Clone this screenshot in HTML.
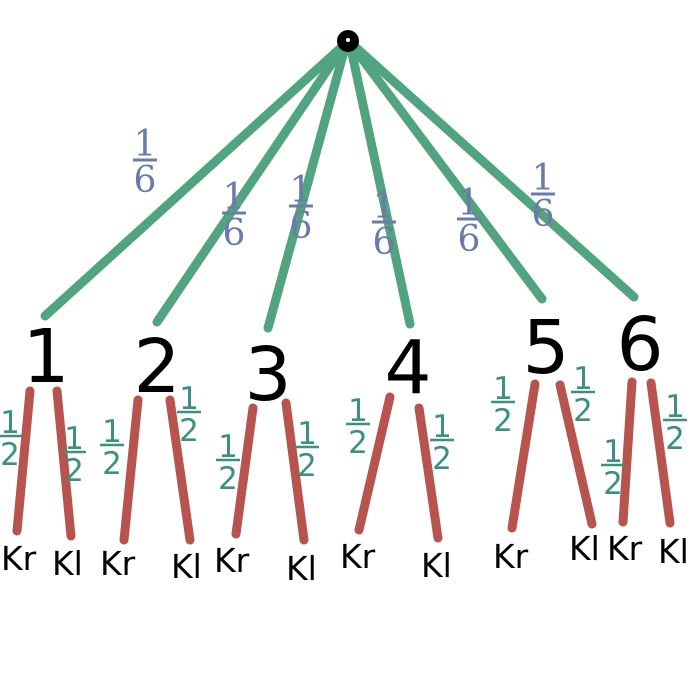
<!DOCTYPE html>
<html><head><style>body{margin:0;background:#fff}svg{display:block}</style></head><body>
<svg width="700" height="700" xmlns="http://www.w3.org/2000/svg">
<defs>
<g id="h"><text x="0" y="-3" text-anchor="middle" font-family="DejaVu Sans, sans-serif" font-size="31" fill="#3d8f80">1</text><line x1="-12" y1="0" x2="12" y2="0" stroke="#3d8f80" stroke-width="2.5"/><text x="0" y="29" text-anchor="middle" font-family="DejaVu Sans, sans-serif" font-size="31" fill="#3d8f80">2</text></g>
<g id="s"><text x="0" y="-4" text-anchor="middle" font-family="DejaVu Serif, serif" font-size="36" fill="#6b7aa8">1</text><line x1="-12" y1="0" x2="12" y2="0" stroke="#6b7aa8" stroke-width="3"/><text x="0" y="32" text-anchor="middle" font-family="DejaVu Serif, serif" font-size="36" fill="#6b7aa8">6</text></g>
</defs>
<g stroke="#52a37f" stroke-width="9" stroke-linecap="round">
<line x1="345" y1="44" x2="45" y2="316"/>
<line x1="345" y1="44" x2="157" y2="322"/>
<line x1="346" y1="44" x2="268" y2="328"/>
<line x1="350" y1="44" x2="410" y2="324"/>
<line x1="351" y1="44" x2="542" y2="299"/>
<line x1="352" y1="44" x2="634" y2="297"/>
</g>
<circle cx="348" cy="41" r="11" fill="#000"/><circle cx="348" cy="40" r="2" fill="#fff"/>
<use href="#s" x="145" y="160"/><use href="#s" x="234" y="213"/><use href="#s" x="301" y="206"/>
<use href="#s" x="384" y="222"/><use href="#s" x="469" y="219"/><use href="#s" x="543" y="194"/>
<g font-family="DejaVu Sans, sans-serif" font-size="74" fill="#000" text-anchor="middle">
<text x="46" y="382">1</text><text x="157" y="392">2</text><text x="268" y="400">3</text>
<text x="408" y="393">4</text><text x="546" y="373">5</text><text x="640" y="370">6</text>
</g>
<g stroke="#b85450" stroke-width="9" stroke-linecap="round">
<line x1="30" y1="391" x2="17" y2="531"/><line x1="57" y1="391" x2="71" y2="536"/>
<line x1="138" y1="400" x2="124" y2="540"/><line x1="170" y1="400" x2="190" y2="540"/>
<line x1="253" y1="408" x2="236" y2="534"/><line x1="286" y1="403" x2="304" y2="540"/>
<line x1="390" y1="397" x2="359" y2="530"/><line x1="419" y1="408" x2="438" y2="538"/>
<line x1="535" y1="384" x2="512" y2="528"/><line x1="560" y1="385" x2="592" y2="524"/>
<line x1="632" y1="382" x2="623" y2="522"/><line x1="651" y1="383" x2="670" y2="523"/>
</g>
<use href="#h" x="10" y="436"/><use href="#h" x="74" y="452"/>
<use href="#h" x="112" y="445"/><use href="#h" x="189" y="412"/>
<use href="#h" x="228" y="460"/><use href="#h" x="307" y="447"/>
<use href="#h" x="358" y="424"/><use href="#h" x="442" y="440"/>
<use href="#h" x="503" y="402"/><use href="#h" x="583" y="392"/>
<use href="#h" x="613" y="465"/><use href="#h" x="675" y="420"/>
<g font-family="DejaVu Sans, sans-serif" font-size="33" fill="#000">
<text x="1" y="570">Kr</text><text x="52" y="575">Kl</text>
<text x="100" y="575">Kr</text><text x="171" y="578">Kl</text>
<text x="214" y="572">Kr</text><text x="286" y="580">Kl</text>
<text x="340" y="568">Kr</text><text x="421" y="577">Kl</text>
<text x="493" y="568">Kr</text><text x="569" y="560">Kl</text>
<text x="607" y="560">Kr</text><text x="658" y="563">Kl</text>
</g>
</svg>
</body></html>
